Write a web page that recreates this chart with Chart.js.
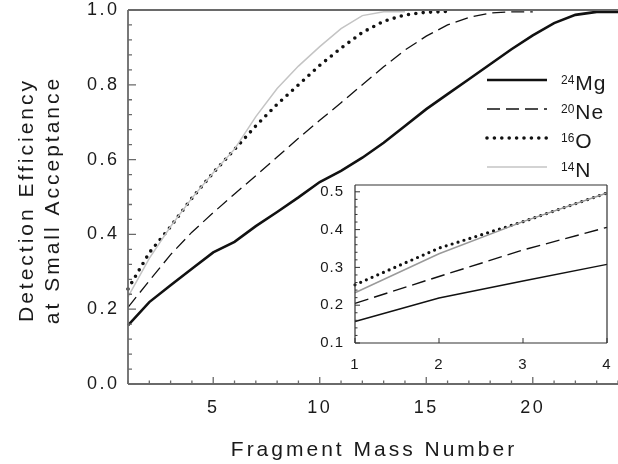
<!DOCTYPE html>
<html>
<head>
<meta charset="utf-8">
<script src="https://cdn.jsdelivr.net/npm/chart.js@4.4.1/dist/chart.umd.min.js"></script>
<style>
  body { margin: 0; background: #fff; }
  #wrap { position: relative; width: 618px; height: 464px; }
  #mainChart { position: absolute; left: 0; top: 0; }
  #insetChart { position: absolute; left: 300px; top: 175px; }
</style>
</head>
<body>
<div id="wrap">
  <canvas id="mainChart" width="618" height="464"></canvas>
  <canvas id="insetChart" width="318" height="200"></canvas>
</div>
<script>
// fragment mass numbers on the x axis
const massNumbers = [1, 2, 3, 4, 5, 6, 7, 8, 9, 10, 11, 12, 13, 14, 15, 16, 17, 18, 19, 20, 21, 22, 23, 24];

// detection efficiency per projectile
const mgValues = [0.157, 0.219, 0.264, 0.308, 0.352, 0.380, 0.422, 0.460, 0.499, 0.540, 0.570, 0.605,
                  0.645, 0.690, 0.735, 0.775, 0.815, 0.855, 0.895, 0.932, 0.965, 0.987, 0.995, 0.995];
const neValues = [0.205, 0.276, 0.346, 0.406, 0.458, 0.508, 0.557, 0.607, 0.657, 0.705,
                  0.752, 0.800, 0.848, 0.893, 0.930, 0.960, 0.980, 0.992, 0.995, 0.995];
const oValues = [0.254, 0.351, 0.421, 0.497, 0.565, 0.627, 0.690, 0.748, 0.800, 0.852,
                 0.898, 0.940, 0.970, 0.987, 0.994, 0.996];
const nValues = [0.233, 0.336, 0.421, 0.497, 0.565, 0.628, 0.715, 0.790, 0.850, 0.902,
                 0.950, 0.985, 0.995, 0.995];

const isotopeMass = ['24', '20', '16', '14'];
const isotopeSymbol = ['Mg', 'Ne', 'O', 'N'];

const xTicks = [5, 10, 15, 20];
const yTicks = [0, 0.2, 0.4, 0.6, 0.8, 1.0];
const insetXTicks = [1, 2, 3, 4];
const insetYTicks = [0.1, 0.2, 0.3, 0.4, 0.5];
const insetCount = 4;

const FONT = "'Liberation Sans', Arial, Helvetica, sans-serif";
Chart.defaults.font.family = FONT;
Chart.defaults.color = '#222';

function points(values, n) {
  return values.slice(0, n || values.length).map((v, i) => ({ x: massNumbers[i], y: v }));
}

// keep the chart area where the layout padding puts it
function noPad(s) {
  s.paddingTop = 0;
  s.paddingBottom = 0;
  s.paddingLeft = 0;
  s.paddingRight = 0;
}

// frame lines and inward tick marks
const axisFrame = {
  id: 'axisFrame',
  beforeDraw(chart, args, opts) {
    const { ctx, chartArea: a } = chart;
    ctx.letterSpacing = opts.labelSpacing || '0px';
    if (opts.fill) {
      ctx.save();
      ctx.fillStyle = opts.fill;
      ctx.fillRect(a.left, a.top, a.right - a.left, a.bottom - a.top);
      ctx.restore();
    }
  },
  afterDatasetsDraw(chart, args, opts) {
    const { ctx, chartArea: a, scales: { x, y } } = chart;
    ctx.save();
    ctx.letterSpacing = '0px';
    ctx.strokeStyle = opts.color;
    ctx.lineWidth = opts.width;
    ctx.beginPath();
    if (opts.sides.includes('left')) { ctx.moveTo(a.left, a.top); ctx.lineTo(a.left, a.bottom); }
    if (opts.sides.includes('bottom')) { ctx.moveTo(a.left, a.bottom); ctx.lineTo(a.right, a.bottom); }
    if (opts.sides.includes('top')) { ctx.moveTo(a.left, a.top); ctx.lineTo(a.right, a.top); }
    if (opts.sides.includes('right')) { ctx.moveTo(a.right, a.top); ctx.lineTo(a.right, a.bottom); }
    ctx.stroke();

    ctx.lineWidth = opts.tickWidth;
    ctx.beginPath();
    const eps = 1e-6;
    if (opts.xStep) {
      for (let v = x.min; v <= x.max + eps; v += opts.xStep) {
        const major = Math.abs(v / opts.xMajor - Math.round(v / opts.xMajor)) < 1e-4;
        const len = major ? opts.xMajorLen : opts.xMinorLen;
        if (!len) continue;
        const px = x.getPixelForValue(v);
        ctx.moveTo(px, a.bottom);
        ctx.lineTo(px, a.bottom - len);
      }
    }
    if (opts.yStep) {
      for (let v = y.min; v <= y.max + eps; v += opts.yStep) {
        const major = Math.abs(v / opts.yMajor - Math.round(v / opts.yMajor)) < 1e-4;
        const len = major ? opts.yMajorLen : opts.yMinorLen;
        const py = y.getPixelForValue(v);
        ctx.moveTo(a.left, py);
        ctx.lineTo(a.left + len, py);
      }
    }
    ctx.stroke();
    ctx.restore();
  },
  afterDraw(chart) {
    chart.ctx.letterSpacing = '0px';
  }
};

// axis titles with wide letter spacing
const axisTitles = {
  id: 'axisTitles',
  afterDraw(chart, args, opts) {
    if (!opts.x) return;
    const { ctx, chartArea: a } = chart;
    ctx.save();
    ctx.fillStyle = '#1a1a1a';
    ctx.font = opts.size + 'px ' + FONT;
    ctx.letterSpacing = opts.spacing;
    ctx.textAlign = 'center';
    ctx.textBaseline = 'alphabetic';
    ctx.fillText(opts.x, (a.left + a.right) / 2 + 1, opts.xBaseline);
    opts.y.forEach((line, i) => {
      ctx.save();
      ctx.translate(opts.yBaselines[i], opts.yCenter);
      ctx.rotate(-Math.PI / 2);
      ctx.fillText(line, 0, 0);
      ctx.restore();
    });
    ctx.restore();
  }
};

// legend with superscript mass numbers
const isoLegend = {
  id: 'isoLegend',
  afterDraw(chart, args, opts) {
    if (!opts.rows) return;
    const { ctx } = chart;
    chart.data.datasets.forEach((ds, i) => {
      const yy = opts.rows[i];
      ctx.save();
      ctx.strokeStyle = ds.borderColor;
      ctx.lineWidth = ds.borderWidth;
      ctx.setLineDash(ds.borderDash || []);
      ctx.lineCap = ds.borderCapStyle || 'butt';
      ctx.beginPath();
      ctx.moveTo(opts.x0, yy);
      ctx.lineTo(opts.x1, yy);
      ctx.stroke();
      ctx.setLineDash([]);
      ctx.fillStyle = '#1a1a1a';
      ctx.textBaseline = 'alphabetic';
      ctx.font = '12px ' + FONT;
      ctx.fillText(ds.mass, opts.textX, yy + 3.5);
      const w = ctx.measureText(ds.mass).width;
      ctx.font = '21px ' + FONT;
      ctx.letterSpacing = '1px';
      ctx.fillText(ds.symbol, opts.textX + w + 1, yy + 10);
      ctx.restore();
    });
  }
};

const mainStyles = [
  { borderColor: '#111', borderWidth: 2.6 },
  { borderColor: '#111', borderWidth: 1.3, borderDash: [13, 6] },
  { borderColor: '#111', borderWidth: 3.6, borderDash: [0, 7.4], borderCapStyle: 'round' },
  { borderColor: '#c4c4c4', borderWidth: 1.5 }
];
const insetStyles = [
  { borderColor: '#111', borderWidth: 1.4 },
  { borderColor: '#111', borderWidth: 1.4, borderDash: [14, 6] },
  { borderColor: '#111', borderWidth: 3.2, borderDash: [0, 6.2], borderCapStyle: 'round' },
  { borderColor: '#9a9a9a', borderWidth: 1.5 }
];
const seriesValues = [mgValues, neValues, oValues, nValues];

function makeDatasets(styles, n) {
  return seriesValues.map((vals, i) => Object.assign({
    label: isotopeMass[i] + isotopeSymbol[i],
    mass: isotopeMass[i],
    symbol: isotopeSymbol[i],
    data: points(vals, n),
    order: 3 - i,
    pointRadius: 0,
    tension: 0,
    fill: false,
    clip: 6
  }, styles[i]));
}

new Chart(document.getElementById('mainChart'), {
  type: 'line',
  data: { datasets: makeDatasets(mainStyles) },
  plugins: [axisFrame, axisTitles, isoLegend],
  options: {
    responsive: false,
    animation: false,
    devicePixelRatio: 1,
    layout: { padding: { top: 10, right: 0, bottom: 0, left: 0 } },
    plugins: {
      legend: { display: false },
      tooltip: { enabled: false },
      axisFrame: {
        color: '#6a6a6a', width: 1.8, tickWidth: 1.3, sides: ['left', 'bottom', 'top'],
        labelSpacing: '2.5px',
        xStep: 1, xMajor: 5, xMajorLen: 7, xMinorLen: 3.5,
        yStep: 0.04, yMajor: 0.2, yMajorLen: 8, yMinorLen: 4
      },
      axisTitles: {
        x: 'Fragment Mass Number',
        y: ['Detection Efficiency', 'at Small Acceptance'],
        size: 21, spacing: '3px',
        xBaseline: 456, yBaselines: [33, 59], yCenter: 200
      },
      isoLegend: { x0: 487, x1: 547, textX: 561, rows: [80, 109, 138, 167] }
    },
    scales: {
      x: {
        type: 'linear', min: 1, max: 24,
        afterFit: s => { s.height = 80; noPad(s); },
        afterBuildTicks: s => { s.ticks = xTicks.map(v => ({ value: v })); },
        grid: { display: false, drawTicks: false },
        border: { display: false },
        ticks: { padding: 13, font: { size: 18 }, color: '#1a1a1a' }
      },
      y: {
        type: 'linear', min: 0, max: 1,
        afterFit: s => { s.width = 128; noPad(s); },
        afterBuildTicks: s => { s.ticks = yTicks.map(v => ({ value: v })); },
        grid: { display: false, drawTicks: false },
        border: { display: false },
        ticks: { padding: 8.5, font: { size: 18 }, color: '#1a1a1a', callback: v => v.toFixed(1) }
      }
    }
  }
});

new Chart(document.getElementById('insetChart'), {
  type: 'line',
  data: { datasets: makeDatasets(insetStyles, insetCount) },
  plugins: [axisFrame],
  options: {
    responsive: false,
    animation: false,
    devicePixelRatio: 1,
    layout: { padding: { top: 10, right: 11, bottom: 0, left: 0 } },
    plugins: {
      legend: { display: false },
      tooltip: { enabled: false },
      axisFrame: {
        color: '#333', width: 1.2, tickWidth: 1, sides: ['left', 'bottom', 'top', 'right'],
        fill: '#fff', labelSpacing: '1px',
        xStep: 1, xMajor: 1, xMajorLen: 5, xMinorLen: 0,
        yStep: 0.02, yMajor: 0.1, yMajorLen: 5, yMinorLen: 2.5
      }
    },
    scales: {
      x: {
        type: 'linear', min: 1, max: 4,
        afterFit: s => { s.height = 32; noPad(s); },
        afterBuildTicks: s => { s.ticks = insetXTicks.map(v => ({ value: v })); },
        grid: { display: false, drawTicks: false },
        border: { display: false },
        ticks: { padding: 13, font: { size: 15 }, color: '#1a1a1a' }
      },
      y: {
        type: 'linear', min: 0.1, max: 0.518,
        afterFit: s => { s.width = 55; noPad(s); },
        afterBuildTicks: s => { s.ticks = insetYTicks.map(v => ({ value: v })); },
        grid: { display: false, drawTicks: false },
        border: { display: false },
        ticks: { padding: 11, font: { size: 15 }, color: '#1a1a1a', callback: v => v.toFixed(1) }
      }
    }
  }
});
</script>
</body>
</html>
